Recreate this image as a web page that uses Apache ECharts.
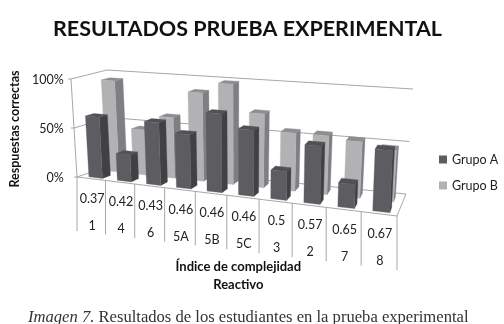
<!DOCTYPE html>
<html><head><meta charset="utf-8">
<style>html,body{margin:0;padding:0;background:#fff}#c{width:504px;height:324px}</style>
<script src="https://cdn.jsdelivr.net/npm/echarts@6/dist/echarts.min.js"></script></head>
<body><div id="c"></div>
<script>
const reactivos = ['1','4','6','5A','5B','5C','3','2','7','8'];
const indices = ['0.37','0.42','0.43','0.46','0.46','0.46','0.5','0.57','0.65','0.67'];
const grupoA = [62,27,62,53,76,63,27,54,22,56];
const grupoB = [94,46,61,88,99,72,56,56,53,48];
const yTicks = [0,50,100];

// Oblique view of the plot box: corner pixels [u][v][w]
const C = {
  '000':[77,177],'100':[397,216],'010':[112,165],'110':[404,194],
  '001':[71,79],'101':[402,104],'011':[107,70],'111':[411,89]
};
const FLOOR_RIGHT=[406,194], TOP_RIGHT=[413,89];
const lerp=(a,b,t)=>[a[0]+(b[0]-a[0])*t,a[1]+(b[1]-a[1])*t];
const PERSP=-0.12;
function proj(u,v,w){
  const U=(1+PERSP)*u/(1+PERSP*u);
  const bot=lerp(lerp(C['000'],C['100'],U),lerp(C['010'],C['110'],U),v);
  const top=lerp(lerp(C['001'],C['101'],U),lerp(C['011'],C['111'],U),v);
  return lerp(bot,top,w);
}
const LINE='#a8a8a8';
const poly=(pts,fill)=>({type:'polygon',shape:{points:pts},style:{fill,stroke:fill,lineWidth:0.3}});
const line=(a,b)=>({type:'line',shape:{x1:a[0],y1:a[1],x2:b[0],y2:b[1]},style:{stroke:LINE,lineWidth:1,fill:null}});

function barRender(v0,v1,cf,cs,ct){
  return function(params,api){
    const cs0=params.coordSys;
    const px=api.coord([api.value(0),api.value(1)]);
    const band=api.size([1,0])[0];
    const u0=(px[0]+0.04*band-0.24*band-cs0.x)/cs0.width;
    const u1=(px[0]+0.04*band+0.24*band-cs0.x)/cs0.width;
    const w=(cs0.y+cs0.height-px[1])/cs0.height;
    const f0=proj(u0,v0,0),f1=proj(u1,v0,0),f2=proj(u1,v0,w),f3=proj(u0,v0,w);
    const b0=proj(u1,v1,0),b1=proj(u1,v1,w),b2=proj(u0,v1,w);
    return {type:'group',children:[
      poly([f1,b0,b1,f2],cs),
      poly([f3,f2,b1,b2],ct),
      poly([f0,f1,f2,f3],cf)
    ]};
  };
}
function frameRender(params,api){
  const g=api.value(0)/100, ch=[];
  ch.push(line(proj(0,0,g),proj(0,1,g)));
  ch.push(line(proj(0,1,g),lerp(proj(0,1,g),lerp(FLOOR_RIGHT,TOP_RIGHT,g),1)));
  const p=proj(0,0,g);
  ch.push(line([p[0]-3,p[1]],p));
  if(params.dataIndex===0){
    ch.push(line(proj(0,0,0),proj(0,0,1)));
    ch.push(line(proj(0,0,0),proj(1,0,0)));
    ch.push(line(proj(1,0,0),FLOOR_RIGHT));
    const e=proj(1,0,0);
    ch.push(line(e,[e[0],e[1]+54]));
  }
  return {type:'group',children:ch};
}
function labelRender(params,api){
  const cs0=params.coordSys,i=api.value(0);
  const c=api.coord([i,0]),band=api.size([1,0])[0];
  const uL=(c[0]-band/2-cs0.x)/cs0.width,uC=(c[0]-cs0.x)/cs0.width;
  const a=proj(uL,0,0),m=proj(uC,0,0);
  const txt=(s,y)=>({type:'text',style:{text:s,x:m[0]+1,y:y,align:'center',verticalAlign:'middle',
    font:'12.5px Lato',fill:'#222'}});
  return {type:'group',children:[
    line(a,[a[0],a[1]+54]),
    txt(indices[i],m[1]+20),
    txt(reactivos[i],m[1]+47)
  ]};
}
const chart=echarts.init(document.getElementById('c'),null,{renderer:'canvas'});
chart.setOption({
  animation:false,
  backgroundColor:'#fff',
  title:[
    {text:'RESULTADOS PRUEBA EXPERIMENTAL',left:48,top:13,
     textStyle:{fontFamily:'Lato',fontWeight:'bold',fontSize:21.5,color:'#111'}},
    {text:'{i|Imagen 7.} Resultados de los estudiantes en la prueba experimental',left:23,top:304,
     textStyle:{fontFamily:'Liberation Serif',fontSize:16.6,color:'#333',fontWeight:'normal',
       rich:{i:{fontFamily:'Liberation Serif',fontStyle:'italic',fontSize:16.6,color:'#333'}}}}
  ],
  legend:{orient:'vertical',left:434,top:148,itemWidth:8,itemHeight:8,itemGap:13,icon:'rect',
    data:['Grupo A','Grupo B'],textStyle:{fontFamily:'Lato',fontSize:12.5,color:'#222'}},
  grid:{left:67,top:80,width:340,height:98},
  xAxis:{type:'category',data:reactivos,name:'Índice de complejidad\nReactivo',nameLocation:'middle',nameGap:80,
    nameTextStyle:{fontFamily:'Lato',fontWeight:'bold',fontSize:13,lineHeight:18,color:'#111'},
    axisLabel:{show:false},axisLine:{show:false},axisTick:{show:false}},
  yAxis:{type:'value',min:0,max:100,interval:50,name:'Respuestas correctas',nameLocation:'middle',nameGap:45,
    nameTextStyle:{fontFamily:'Lato',fontWeight:'bold',fontSize:12.5,color:'#111'},
    axisLabel:{formatter:'{value}%',margin:6,fontFamily:'Lato',fontSize:12.5,color:'#222'},
    axisLine:{show:false},axisTick:{show:false},splitLine:{show:false}},
  series:[
    {type:'custom',name:'frame',z:1,silent:true,renderItem:frameRender,data:yTicks.map(v=>[v]),encode:{x:-1,y:-1}},
    {type:'custom',name:'labels',z:2,silent:true,renderItem:labelRender,data:reactivos.map((r,i)=>[i]),encode:{x:-1,y:-1}},
    {type:'custom',name:'Grupo A',z:4,renderItem:barRender(0.1,0.34,'#5c5c61','#404045','#505055'),
      itemStyle:{color:'#5c5c61'},data:grupoA.map((v,i)=>[i,v]),encode:{x:0,y:1}},
    {type:'custom',name:'Grupo B',z:3,renderItem:barRender(0.6,0.84,'#b2b2b4','#7f7f83','#8e8e91'),
      itemStyle:{color:'#b2b2b4'},data:grupoB.map((v,i)=>[i,v]),encode:{x:0,y:1}}
  ]
});
</script></body></html>
